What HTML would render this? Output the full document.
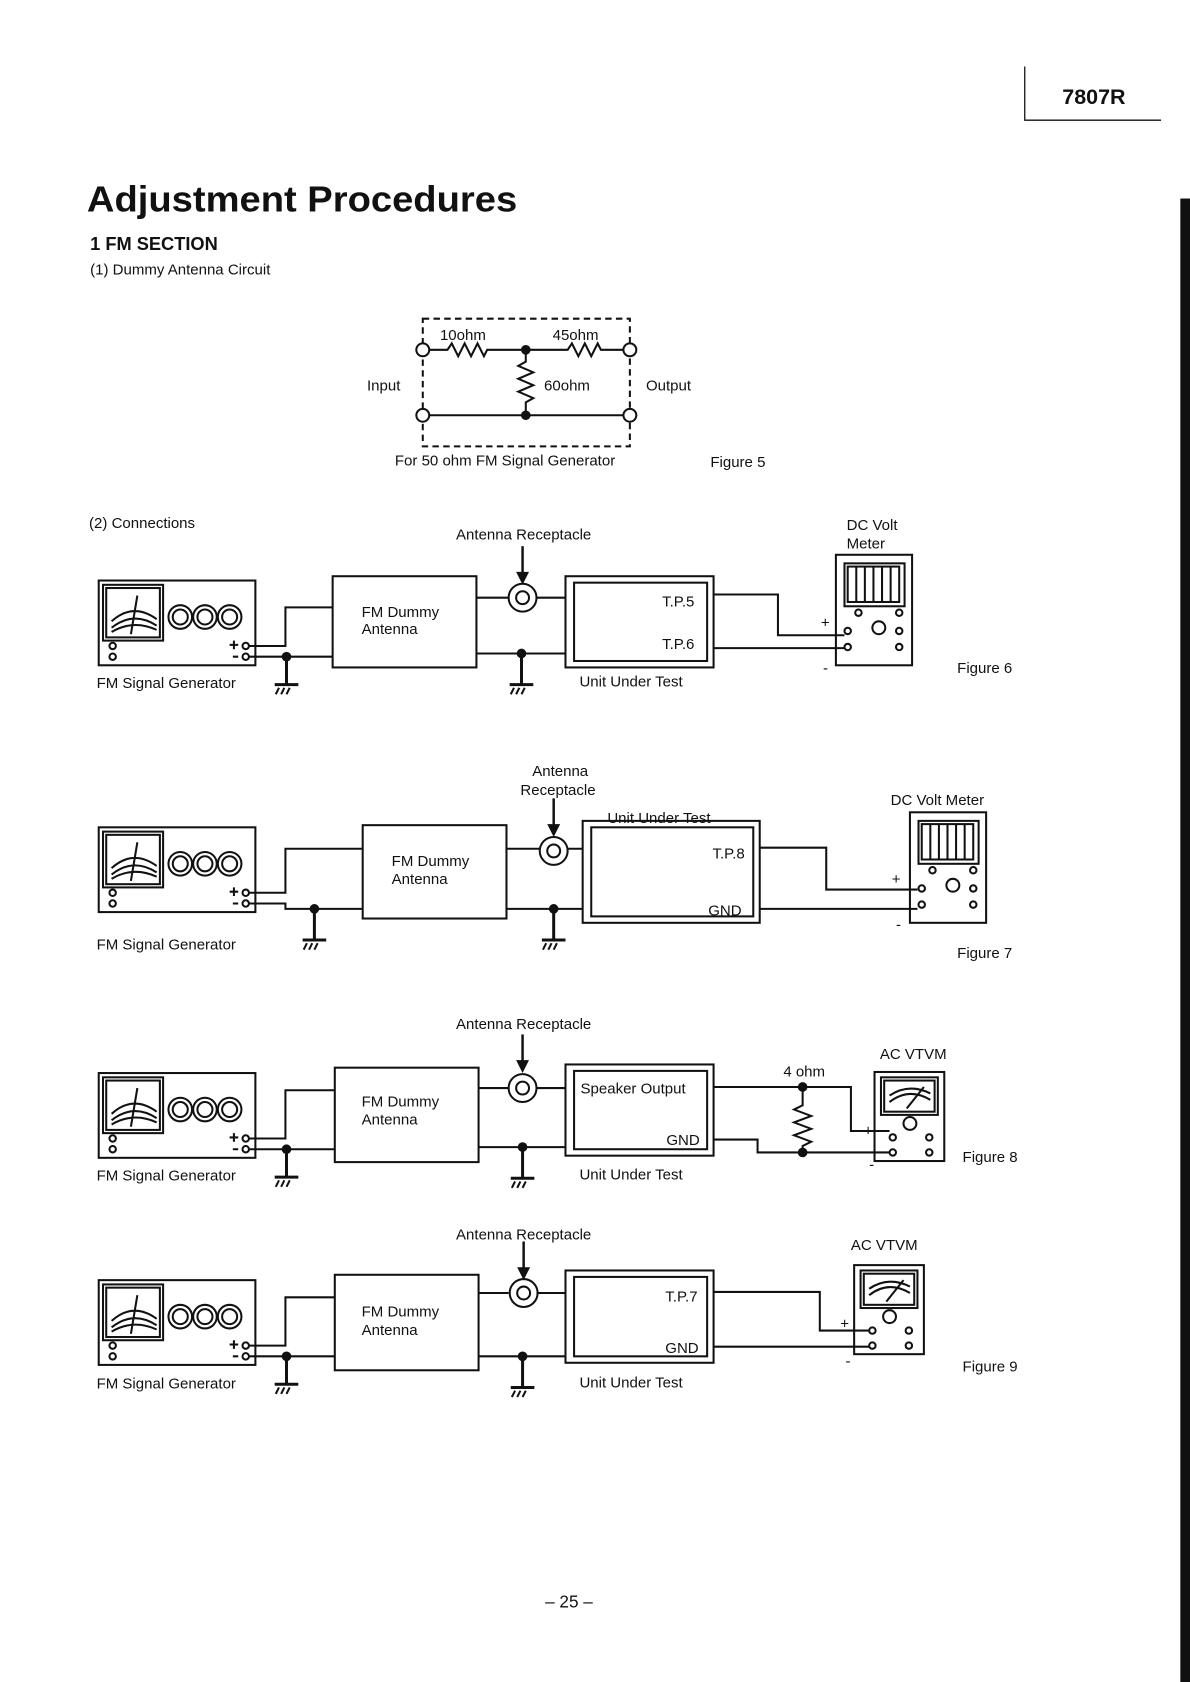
<!DOCTYPE html>
<html><head><meta charset="utf-8"><style>
html,body{margin:0;padding:0;background:#fff}
svg{display:block}
text{font-family:"Liberation Sans",sans-serif;fill:#111}
.t{font-size:14px}
</style></head><body>
<svg width="1190" height="1682" viewBox="0 0 1109 1567.5" xmlns="http://www.w3.org/2000/svg">
<defs>
<g id="gen" fill="none" stroke="#111" stroke-width="1.9">
<rect x="0" y="0" width="146" height="79"/>
<rect x="4" y="4" width="56" height="52"/>
<rect x="7" y="7" width="50" height="46"/>
<path d="M12 38 Q32 20 54 36 M12 44 Q32 28 54 42 M12 48 Q32 36 54 46 M30 50 L36 14"/>
<circle cx="76" cy="34" r="11"/><circle cx="76" cy="34" r="7"/>
<circle cx="99" cy="34" r="11"/><circle cx="99" cy="34" r="7"/>
<circle cx="122" cy="34" r="11"/><circle cx="122" cy="34" r="7"/>
<circle cx="13" cy="61" r="3"/><circle cx="13" cy="71" r="3"/>
<circle cx="137" cy="61" r="3"/><circle cx="137" cy="71" r="3"/>
<path d="M122 60 h8 M126 56 v8 M125 71 h5"/>
</g>
<g id="gnd" fill="none" stroke="#111" stroke-width="1.9">
<path d="M0 0 V26 M-11 26 H11" stroke-width="2.8"/>
<path d="M-7 29 L-10 35 M-2 29 L-5 35 M3 29 L0 35"/>
</g>
<g id="dot"><circle r="4.5" fill="#111"/></g>
<g id="rec" fill="none" stroke="#111" stroke-width="1.9"><circle r="13"/><circle r="6"/></g>
<g id="arr"><path d="M0 0 V26" stroke="#111" stroke-width="2.3"/><path d="M-6 24 L6 24 L0 36 Z" fill="#111"/></g>
<g id="dcm" fill="none" stroke="#111" stroke-width="1.9">
<rect x="0" y="0" width="71" height="103"/>
<rect x="8" y="8" width="56" height="40"/>
<rect x="11" y="11" width="48" height="33"/>
<path d="M19 11 V44 M27 11 V44 M35 11 V44 M43 11 V44 M51 11 V44"/>
<circle cx="21" cy="54" r="3"/><circle cx="59" cy="54" r="3"/>
<circle cx="40" cy="68" r="6"/><circle cx="59" cy="71" r="3"/>
<circle cx="11" cy="71" r="3"/><circle cx="11" cy="86" r="3"/><circle cx="59" cy="86" r="3"/>
</g>
<g id="ac" fill="none" stroke="#111" stroke-width="1.9">
<rect x="0" y="0" width="65" height="83"/>
<rect x="6" y="5" width="53" height="35"/>
<rect x="9" y="8" width="47" height="29"/>
<path d="M14 28 Q32 14 52 26 M14 22 Q32 10 52 20 M30 34 L46 14"/>
<circle cx="33" cy="48" r="6"/>
<circle cx="17" cy="61" r="3"/><circle cx="51" cy="61" r="3"/>
<circle cx="17" cy="75" r="3"/><circle cx="51" cy="75" r="3"/>
</g>
</defs>

<path d="M955 62 V112 H1082" stroke="#111" stroke-width="1.2" fill="none"/>
<text x="990" y="97" style="font-size:20px;font-weight:bold">7807R</text>
<rect x="1100" y="185" width="9" height="1383" fill="#111"/>
<text x="81" y="197" style="font-size:34px;font-weight:bold" textLength="401" lengthAdjust="spacingAndGlyphs">Adjustment Procedures</text>
<text x="84" y="233" style="font-size:17px;font-weight:bold">1  FM  SECTION</text>
<text x="84" y="256" class="t">(1)  Dummy  Antenna   Circuit</text>

<g fill="none" stroke="#111" stroke-width="1.9">
<rect x="394" y="297" width="193" height="119" stroke-dasharray="6,4"/>
<path d="M400 326 H417 l4 -6 l6 12 l6 -12 l6 12 l6 -12 l6 12 l3 -6 H529 l4 -6 l6 12 l6 -12 l6 12 l6 -12 l3 6 H581"/>
<path d="M490 326 V337 l-7 4 l14 6 l-14 6 l14 6 l-14 6 l14 6 l-7 4 V387"/>
<path d="M400 387 H581"/>
</g>
<g fill="#fff" stroke="#111" stroke-width="1.9"><circle cx="394" cy="326" r="6"/><circle cx="587" cy="326" r="6"/><circle cx="394" cy="387" r="6"/><circle cx="587" cy="387" r="6"/></g>
<use href="#dot" x="490" y="326"/><use href="#dot" x="490" y="387"/>
<text x="410" y="317" class="t">10ohm</text><text x="515" y="317" class="t">45ohm</text>
<text x="342" y="364" class="t">Input</text><text x="507" y="364" class="t">60ohm</text><text x="602" y="364" class="t">Output</text>
<text x="368" y="434" class="t">For  50  ohm  FM  Signal  Generator</text>
<text x="662" y="435" class="t">Figure  5</text>

<text x="83" y="492" class="t">(2)  Connections</text>
<use href="#gen" x="92" y="541"/>
<text x="90" y="641" class="t">FM  Signal  Generator</text>
<g fill="none" stroke="#111" stroke-width="1.9">
<path d="M232 602 H266 V566 H310 M232 612 H310"/>
<rect x="310" y="537" width="134" height="85"/>
<path d="M444 557 H474 M500 557 H527 M444 609 H527"/>
<rect x="527" y="537" width="138" height="85"/><rect x="535" y="543" width="124" height="73"/>
<path d="M665 554 H725 V592 H787 M665 604 H787"/>
</g>
<use href="#dot" x="267" y="612"/><use href="#gnd" x="267" y="612"/>
<use href="#dot" x="486" y="609"/><use href="#gnd" x="486" y="612"/>
<use href="#rec" x="487" y="557"/><use href="#arr" x="487" y="509"/>
<use href="#dcm" x="779" y="517"/>
<text x="337" y="575" class="t">FM  Dummy</text><text x="337" y="591" class="t">Antenna</text>
<text x="425" y="503" class="t">Antenna  Receptacle</text>
<text x="617" y="565" class="t">T.P.5</text><text x="617" y="605" class="t">T.P.6</text>
<text x="540" y="640" class="t">Unit  Under  Test</text>
<text x="765" y="585" class="t">+</text><text x="767" y="627" class="t">-</text>
<text x="789" y="494" class="t">DC  Volt</text><text x="789" y="511" class="t">Meter</text>
<text x="892" y="627" class="t">Figure  6</text>

<use href="#gen" x="92" y="771"/>
<text x="90" y="885" class="t">FM  Signal  Generator</text>
<g fill="none" stroke="#111" stroke-width="1.9">
<path d="M232 832 H266 V791 H338 M232 842 H266 V847 H338"/>
<rect x="338" y="769" width="134" height="87"/>
<path d="M472 791 H503 M529 791 H543 M472 847 H543"/>
<rect x="543" y="765" width="165" height="95"/><rect x="551" y="771" width="151" height="83"/>
<path d="M708 790 H770 V829 H855 M708 847 H855"/>
</g>
<use href="#dot" x="293" y="847"/><use href="#gnd" x="293" y="850"/>
<use href="#dot" x="516" y="847"/><use href="#gnd" x="516" y="850"/>
<use href="#rec" x="516" y="793"/><use href="#arr" x="516" y="744"/>
<use href="#dcm" x="848" y="757"/>
<text x="365" y="807" class="t">FM  Dummy</text><text x="365" y="824" class="t">Antenna</text>
<text x="496" y="723" class="t">Antenna</text><text x="485" y="741" class="t">Receptacle</text>
<text x="566" y="767" class="t">Unit  Under  Test</text>
<text x="664" y="800" class="t">T.P.8</text><text x="660" y="853" class="t">GND</text>
<text x="831" y="824" class="t">+</text><text x="835" y="866" class="t">-</text>
<text x="830" y="750" class="t">DC  Volt  Meter</text>
<text x="892" y="893" class="t">Figure  7</text>

<use href="#gen" x="92" y="1000"/>
<text x="90" y="1100" class="t">FM  Signal  Generator</text>
<g fill="none" stroke="#111" stroke-width="1.9">
<path d="M232 1061 H266 V1016 H312 M232 1071 H312"/>
<rect x="312" y="995" width="134" height="88"/>
<path d="M446 1014 H474 M500 1014 H527 M446 1069 H527"/>
<rect x="527" y="992" width="138" height="85"/><rect x="535" y="998" width="124" height="73"/>
<path d="M665 1013 H793 V1054 H829 M665 1062 H706 V1074 H829"/>
<path d="M748 1013 V1030 l-8 4 l16 6 l-16 6 l16 6 l-16 6 l16 6 l-8 4 V1074"/>
</g>
<use href="#dot" x="267" y="1071"/><use href="#gnd" x="267" y="1071"/>
<use href="#dot" x="487" y="1069"/><use href="#gnd" x="487" y="1072"/>
<use href="#dot" x="748" y="1013"/><use href="#dot" x="748" y="1074"/>
<use href="#rec" x="487" y="1014"/><use href="#arr" x="487" y="964"/>
<use href="#ac" x="815" y="999"/>
<text x="337" y="1031" class="t">FM  Dummy</text><text x="337" y="1048" class="t">Antenna</text>
<text x="425" y="959" class="t">Antenna  Receptacle</text>
<text x="541" y="1019" class="t">Speaker  Output</text><text x="621" y="1067" class="t">GND</text>
<text x="540" y="1099" class="t">Unit  Under  Test</text>
<text x="730" y="1003" class="t">4 ohm</text>
<text x="820" y="987" class="t">AC  VTVM</text>
<text x="805" y="1058" class="t">+</text><text x="810" y="1090" class="t">-</text>
<text x="897" y="1083" class="t">Figure  8</text>

<use href="#gen" x="92" y="1193"/>
<text x="90" y="1294" class="t">FM  Signal  Generator</text>
<g fill="none" stroke="#111" stroke-width="1.9">
<path d="M232 1254 H266 V1209 H312 M232 1264 H312"/>
<rect x="312" y="1188" width="134" height="89"/>
<path d="M446 1205 H474 M500 1205 H527 M446 1264 H527"/>
<rect x="527" y="1184" width="138" height="86"/><rect x="535" y="1190" width="124" height="74"/>
<path d="M665 1204 H764 V1240 H810 M665 1255 H810"/>
</g>
<use href="#dot" x="267" y="1264"/><use href="#gnd" x="267" y="1264"/>
<use href="#dot" x="487" y="1264"/><use href="#gnd" x="487" y="1267"/>
<use href="#rec" x="488" y="1205"/><use href="#arr" x="488" y="1157"/>
<use href="#ac" x="796" y="1179"/>
<text x="337" y="1227" class="t">FM  Dummy</text><text x="337" y="1244" class="t">Antenna</text>
<text x="425" y="1155" class="t">Antenna  Receptacle</text>
<text x="620" y="1213" class="t">T.P.7</text><text x="620" y="1261" class="t">GND</text>
<text x="540" y="1293" class="t">Unit  Under  Test</text>
<text x="793" y="1165" class="t">AC  VTVM</text>
<text x="783" y="1238" class="t">+</text><text x="788" y="1273" class="t">-</text>
<text x="897" y="1278" class="t">Figure  9</text>

<text x="508" y="1498" style="font-size:16px">– 25 –</text>
</svg>
</body></html>
